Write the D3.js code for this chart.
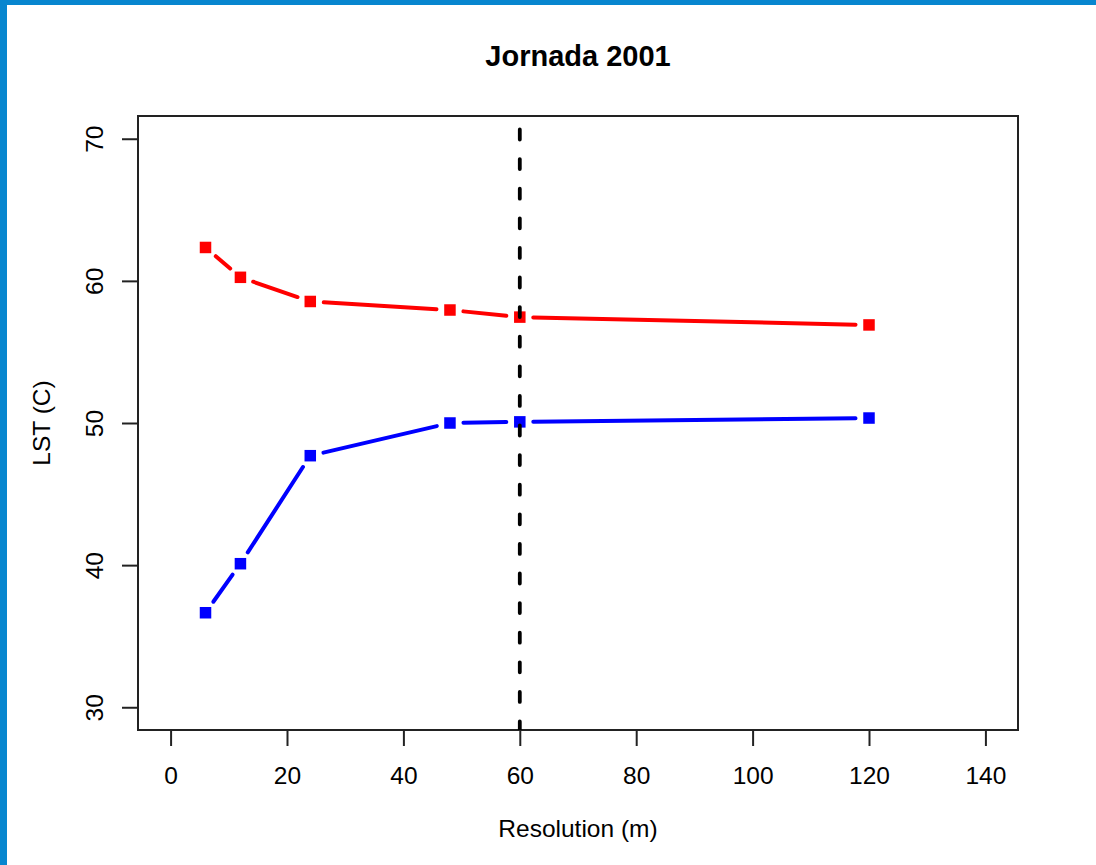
<!DOCTYPE html>
<html>
<head>
<meta charset="utf-8">
<script src="https://cdn.jsdelivr.net/npm/d3@7"></script>
<style>
  html, body { margin: 0; padding: 0; background: #fff; }
  body { width: 1096px; height: 865px; overflow: hidden; }
  text { font-family: "Liberation Sans", Arial, Helvetica, sans-serif; fill: #000; }
</style>
</head>
<body>
<div id="chart"></div>
<script>
// Data
const resolution = [6, 12, 24, 48, 60, 120];
const lstHot = [62.35, 60.25, 58.55, 57.95, 57.45, 56.9];
const lstCool = [36.65, 40.1, 47.7, 50.0, 50.08, 50.35];
const xTicks = [0, 20, 40, 60, 80, 100, 120, 140];
const yTicks = [30, 40, 50, 60, 70];
const cutoff = 60;

const W = 1096, H = 865;
const plot = { left: 138, top: 116, right: 1018, bottom: 730 };

const svg = d3.select("#chart").append("svg")
  .attr("width", W).attr("height", H);

// frame round the page
svg.append("rect").attr("x", 0).attr("y", 0).attr("width", W).attr("height", 5).attr("fill", "#0786cf");
svg.append("rect").attr("x", 0).attr("y", 0).attr("width", 7).attr("height", H).attr("fill", "#0786cf");

// R style: 4% padding around the limits
const xr = [0, 140], yr = [30, 70];
const px = (xr[1] - xr[0]) * 0.04, py = (yr[1] - yr[0]) * 0.04;
const x = d3.scaleLinear().domain([xr[0] - px, xr[1] + px]).range([plot.left, plot.right]);
const y = d3.scaleLinear().domain([yr[0] - py, yr[1] + py]).range([plot.bottom, plot.top]);

svg.append("defs").append("clipPath").attr("id", "clip")
  .append("rect")
  .attr("x", plot.left).attr("y", plot.top)
  .attr("width", plot.right - plot.left).attr("height", plot.bottom - plot.top);

// axes
const xAxis = svg.append("g")
  .attr("transform", `translate(0,${plot.bottom})`)
  .call(d3.axisBottom(x).tickValues(xTicks).tickSize(16).tickSizeOuter(0));
const yAxis = svg.append("g")
  .attr("transform", `translate(${plot.left},0)`)
  .call(d3.axisLeft(y).tickValues(yTicks).tickSize(16).tickSizeOuter(0));

[xAxis, yAxis].forEach(g => {
  g.select(".domain").remove();
  g.selectAll(".tick line").attr("stroke", "#222").attr("stroke-width", 2);
  g.selectAll(".tick text").style("font-size", "24.5px").attr("fill", "#000");
});
xAxis.selectAll(".tick text").attr("dy", null).attr("y", 54);
yAxis.selectAll(".tick text")
  .attr("x", null).attr("dy", null)
  .attr("text-anchor", "middle")
  .attr("transform", "translate(-35,0) rotate(-90)");

// box
svg.append("rect")
  .attr("x", plot.left).attr("y", plot.top)
  .attr("width", plot.right - plot.left).attr("height", plot.bottom - plot.top)
  .attr("fill", "none").attr("stroke", "#222").attr("stroke-width", 2);

const g = svg.append("g").attr("clip-path", "url(#clip)");

// type = "b": segments with gaps around the points
function drawSeries(vals, color) {
  const pts = resolution.map((r, i) => [x(r), y(vals[i])]);
  const gap = 13.5;
  const segs = d3.pairs(pts).map(([a, b]) => {
    const dx = b[0] - a[0], dy = b[1] - a[1];
    const len = Math.hypot(dx, dy);
    const ux = dx / len, uy = dy / len;
    return [a[0] + ux * gap, a[1] + uy * gap, b[0] - ux * gap, b[1] - uy * gap];
  });
  g.selectAll(null).data(segs).enter().append("line")
    .attr("x1", d => d[0]).attr("y1", d => d[1])
    .attr("x2", d => d[2]).attr("y2", d => d[3])
    .attr("stroke", color).attr("stroke-width", 4).attr("stroke-linecap", "round");
  g.selectAll(null).data(pts).enter().append("rect")
    .attr("x", d => d[0] - 5.75).attr("y", d => d[1] - 5.75)
    .attr("width", 11.5).attr("height", 11.5)
    .attr("fill", color);
}

drawSeries(lstHot, "#ff0000");
drawSeries(lstCool, "#0000ff");

// dashed cutoff line
g.append("line")
  .attr("x1", x(cutoff)).attr("x2", x(cutoff))
  .attr("y1", plot.bottom + 1.5).attr("y2", plot.top - 10)
  .attr("stroke", "#000").attr("stroke-width", 3.8)
  .attr("stroke-linecap", "round")
  .attr("stroke-dasharray", "10,19.6");

// titles
svg.append("text")
  .attr("x", (plot.left + plot.right) / 2).attr("y", 66)
  .attr("text-anchor", "middle")
  .style("font-size", "29px").style("font-weight", "bold")
  .text("Jornada 2001");

svg.append("text")
  .attr("x", (plot.left + plot.right) / 2).attr("y", 837)
  .attr("text-anchor", "middle")
  .style("font-size", "24.5px")
  .text("Resolution (m)");

svg.append("text")
  .attr("transform", `translate(50,${(plot.top + plot.bottom) / 2}) rotate(-90)`)
  .attr("text-anchor", "middle")
  .style("font-size", "24.5px")
  .text("LST (C)");
</script>
</body>
</html>
